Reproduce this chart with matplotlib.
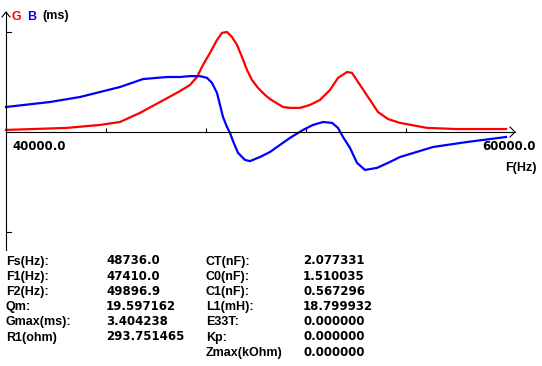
import matplotlib
matplotlib.use("Agg")
import matplotlib.pyplot as plt

# ── data (frequency in Hz, conductance / susceptance in ms) ──
freq_g = [40000, 42440, 43760, 44560, 45360, 46160, 46960, 47360, 47640, 47880,
          48160, 48440, 48640, 48840, 49040, 49240, 49440, 49640, 49840, 50080,
          50360, 50560, 51080, 51360, 51760, 52160, 52560, 52960, 53280, 53640,
          53840, 54160, 54560, 54880, 55280, 55760, 56840, 58040, 60000]
G_ms = [0.07, 0.14, 0.24, 0.34, 0.65, 1.02, 1.39, 1.60, 1.87, 2.28,
        2.69, 3.13, 3.37, 3.40, 3.23, 2.96, 2.55, 2.11, 1.77, 1.50,
        1.26, 1.12, 0.85, 0.82, 0.82, 0.92, 1.09, 1.43, 1.84, 2.04,
        2.01, 1.60, 1.09, 0.68, 0.44, 0.31, 0.14, 0.10, 0.10]

freq_b = [40000, 41760, 42960, 43760, 44560, 45480, 46440, 46960, 47360, 47760,
          48040, 48240, 48440, 48560, 48680, 48840, 48960, 49080, 49280, 49560,
          49760, 50160, 50560, 50840, 51360, 51880, 52280, 52680, 53040, 53280,
          53480, 53760, 54040, 54360, 54840, 55280, 55760, 57080, 58440, 60000]
B_ms = [0.85, 1.02, 1.19, 1.36, 1.53, 1.80, 1.87, 1.87, 1.90, 1.90,
        1.84, 1.67, 1.33, 0.92, 0.51, 0.17, -0.03, -0.31, -0.71, -0.95,
        -0.99, -0.85, -0.68, -0.51, -0.20, 0.07, 0.24, 0.34, 0.31, 0.14,
        -0.17, -0.54, -1.05, -1.29, -1.22, -1.05, -0.85, -0.51, -0.34, -0.17]

x_ticks = [44000, 48000, 52000, 56000]
f_start, f_end = 40000.0, 60000.0

labels_left = ["Fs(Hz):", "F1(Hz):", "F2(Hz):", "Qm:", "Gmax(ms):", "R1(ohm)"]
values_left = ["48736.0", "47410.0", "49896.9", "19.597162", "3.404238", "293.751465"]
labels_right = ["CT(nF):", "C0(nF):", "C1(nF):", "L1(mH):", "E33T:", "Kp:", "Zmax(kOhm)"]
values_right = ["2.077331", "1.510035", "0.567296", "18.799932", "0.000000",
                "0.000000", "0.000000"]

RED, BLUE = "#ff0000", "#0000ff"
W, H = 542, 366
HZ_PER_PX = 40.0      # 20000 Hz across 500 px
MS_PER_PX = 0.034
X0, Y0 = 6, 132       # pixel position of (40000 Hz, 0 ms)

fig = plt.figure(figsize=(W / 100, H / 100), dpi=100)
fig.patch.set_facecolor("white")

# data axes scaled so that the traces land on the pixel grid of the screen
ax = fig.add_axes([0, 0, 1, 1])
ax.set_xlim(f_start - X0 * HZ_PER_PX, f_start + (W - X0) * HZ_PER_PX)
ax.set_ylim(-(H - Y0) * MS_PER_PX, Y0 * MS_PER_PX)
ax.axis("off")

# overlay in screen pixels for the hand-drawn axes and text
ov = fig.add_axes([0, 0, 1, 1])
ov.set_xlim(0, W)
ov.set_ylim(H, 0)
ov.axis("off")
ov.patch.set_alpha(0)

lw_ax = 0.8
ov.plot([X0, X0], [12, 250], color="black", lw=lw_ax)
ov.plot([X0 - 4, X0, X0 + 4], [17, 12, 17], color="black", lw=lw_ax)
ov.plot([X0, 515], [Y0, Y0], color="black", lw=lw_ax)
ov.plot([510, 515, 510], [Y0 - 5, Y0, Y0 + 5], color="black", lw=lw_ax)
for ty in [32, 232]:
    ov.plot([X0, X0 + 5], [ty, ty], color="black", lw=lw_ax)

ax.vlines(x_ticks, 0, 4 * MS_PER_PX, color="black", lw=lw_ax)

ax.plot(freq_g, G_ms, color=RED, lw=1.6, zorder=3, solid_joinstyle="round")
ax.plot(freq_b, B_ms, color=BLUE, lw=1.6, zorder=3, solid_joinstyle="round")

lab_font = dict(family="Liberation Sans", fontweight="bold", fontsize=9, va="baseline")
num_font = dict(family="DejaVu Sans", fontweight="bold", fontsize=8.5, va="baseline")
BL = 4.5   # baseline offset below a row's centre

ov.text(12, 15 + BL, "G", color=RED, ha="left", **lab_font)
ov.text(27, 15 + BL, "B", color=BLUE, ha="left", **lab_font)
ov.text(42, 15 + BL, "(ms)", color="black", ha="left", **lab_font)

ov.text(12, 145 + BL, f"{f_start:.1f}", ha="left", **num_font)
ov.text(536, 145 + BL, f"{f_end:.1f}", ha="right", **num_font)
ov.text(537, 166 + BL, "F(Hz)", ha="right", **lab_font)

row0, dy = 260, 15.2
for i, (lab, val) in enumerate(zip(labels_left, values_left)):
    ov.text(6, row0 + i * dy + BL, lab, ha="left", **lab_font)
    ov.text(106, row0 + i * dy + BL, val, ha="left", **num_font)
for i, (lab, val) in enumerate(zip(labels_right, values_right)):
    ov.text(206, row0 + i * dy + BL, lab, ha="left", **lab_font)
    ov.text(303, row0 + i * dy + BL, val, ha="left", **num_font)

fig.savefig("out.png", dpi=100, facecolor="white")
